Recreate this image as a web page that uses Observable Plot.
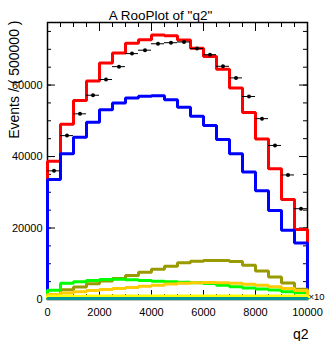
<!DOCTYPE html>
<html><head><meta charset="utf-8">
<script src="https://cdn.jsdelivr.net/npm/d3@7"></script>
<script src="https://cdn.jsdelivr.net/npm/@observablehq/plot@0.6"></script>
<style>
html,body{margin:0;padding:0;background:#fff;}
#chart svg{display:block;}
</style></head><body><div id="chart"></div>
<script>
// bin edges of q2
const xEdges = [0,500,1000,1500,2000,2500,3000,3500,4000,4500,5000,5500,6000,6500,7000,7500,8000,8500,9000,9500,10000];
// components (events per bin)
const totalPdf = [38700,49000,55700,61100,66200,69000,71700,72700,74000,73800,72600,70300,68000,64400,59200,52300,44900,36600,28000,19600];
const bluePdf  = [33600,40800,45400,49600,53100,55000,56400,56900,57000,55900,53800,51300,48700,44800,40800,35700,30400,24900,19400,15800];
const olivePdf = [1300,2700,3500,4400,5150,5900,6700,7600,8450,9300,10300,10700,10900,10900,10600,9600,8000,6300,4650,2850];
const greenPdf = [2600,4550,5000,5350,5600,5650,5500,5300,5100,5000,4850,4700,4450,4000,3550,3200,2950,2650,2150,1900];
const orangePdf= [1400,1850,2150,2500,2800,3100,3350,3700,4000,4350,4550,4700,4750,4700,4550,4300,4000,3550,3100,2550];
const yellowPdf= [900,920,940,950,960,970,980,990,1000,1000,1010,1010,1010,1000,1000,990,980,970,960,950];
const tealPdf  = [300,300,300,300,300,300,300,300,300,300,300,300,300,300,300,300,300,300,300,300];
// data points
const dataVals = [36000,45850,51950,57150,61550,65150,68800,69750,71550,71850,72050,70200,68500,65250,62000,56800,50600,43100,34850,25400];
// axis ticks
const xMajor = [0,2000,4000,6000,8000,10000];
const xMinor = [0,500,1000,1500,2000,2500,3000,3500,4000,4500,5000,5500,6000,6500,7000,7500,8000,8500,9000,9500,10000];
const yMajor = [0,20000,40000,60000];
const yMinor = [0,5000,10000,15000,20000,25000,30000,35000,40000,45000,50000,55000,60000,65000,70000,75000];

const W = 326, H = 341, mL = 47, mR = 19, mT = 22, mB = 42;
const fw = W - mL - mR, fh = H - mT - mB;

function steps(vals){
  const pts = [{x: xEdges[0], y: 0}];
  vals.forEach((v,i) => pts.push({x: xEdges[i], y: v}));
  const last = xEdges[xEdges.length-1];
  pts.push({x: last, y: vals[vals.length-1]});
  pts.push({x: last, y: 0});
  return pts;
}
const points = dataVals.map((v,i) => ({lo: xEdges[i], hi: xEdges[i+1], c: (xEdges[i]+xEdges[i+1])/2, v}));

const font = "Liberation Sans, Arial, Helvetica, sans-serif";
const lineOpts = (c) => ({x:"x", y:"y", curve:"step-after", stroke:c, strokeWidth:3, strokeLinejoin:"miter", strokeLinecap:"butt"});

const chart = Plot.plot({
  width: W, height: H,
  marginLeft: mL, marginRight: mR, marginTop: mT, marginBottom: mB,
  x: {domain: [0, 10000], axis: null},
  y: {domain: [0, 77500], axis: null},
  style: {fontFamily: font, background: "white", color: "black"},
  marks: [
    Plot.frame({stroke: "black", strokeWidth: 1.5}),
    // x ticks bottom & top
    Plot.tickX(xMinor, {x: d=>d, insetTop: fh-5, stroke:"black", strokeWidth:1}),
    Plot.tickX(xMajor, {x: d=>d, insetTop: fh-9, stroke:"black", strokeWidth:1}),
    Plot.tickX(xMinor, {x: d=>d, insetBottom: fh-5, stroke:"black", strokeWidth:1}),
    Plot.tickX(xMajor, {x: d=>d, insetBottom: fh-9, stroke:"black", strokeWidth:1}),
    // y ticks left & right
    Plot.tickY(yMinor, {y: d=>d, insetRight: fw-4, stroke:"black", strokeWidth:1}),
    Plot.tickY(yMajor, {y: d=>d, insetRight: fw-8, stroke:"black", strokeWidth:1}),
    Plot.tickY(yMinor, {y: d=>d, insetLeft: fw-4, stroke:"black", strokeWidth:1}),
    Plot.tickY(yMajor, {y: d=>d, insetLeft: fw-8, stroke:"black", strokeWidth:1}),
    // curves
    Plot.line(steps(totalPdf), lineOpts("#ff0000")),
    Plot.line(steps(bluePdf), lineOpts("#0000ff")),
    Plot.line(steps(olivePdf), lineOpts("#999900")),
    Plot.line(steps(greenPdf), lineOpts("#00ff00")),
    Plot.line(steps(orangePdf), lineOpts("#ffcc00")),
    Plot.line(steps(yellowPdf), lineOpts("#ffff00")),
    Plot.line(steps(tealPdf), lineOpts("#009999")),
    // data
    Plot.ruleY(points, {y:"v", x1:"lo", x2:"hi", stroke:"black", strokeWidth:1}),
    Plot.dot(points, {x:"c", y:"v", r:2, fill:"black", stroke:"none"}),
    // tick labels
    Plot.text(xMajor, {x: d=>d, text: d=>String(d), frameAnchor:"bottom", lineAnchor:"bottom", dy:16, fontSize:11, fill:"black"}),
    Plot.text(yMajor, {y: d=>d, text: d=>String(d), frameAnchor:"left", textAnchor:"end", dx:-5, fontSize:11, fill:"black"}),
    // axis titles
    Plot.text(["q2"], {frameAnchor:"bottom-right", textAnchor:"end", lineAnchor:"bottom", dy:39, dx:1, fontSize:14, fill:"black"}),
    Plot.text(["Events / ( 500000 )"], {frameAnchor:"top-left", rotate:-90, textAnchor:"end", lineAnchor:"middle", dx:-33, dy:-2, fontSize:14, fill:"black"}),
    Plot.text(["\u00d710"], {frameAnchor:"bottom-right", textAnchor:"start", lineAnchor:"bottom", dx:1, dy:0, fontSize:9.5, fill:"black"}),
    // title
    Plot.text(['A RooPlot of "q2"'], {frameAnchor:"top", lineAnchor:"bottom", dy:-3, dx:-17, fontSize:13.5, fill:"black"})
  ]
});
document.getElementById("chart").appendChild(chart);
</script>
</body></html>
